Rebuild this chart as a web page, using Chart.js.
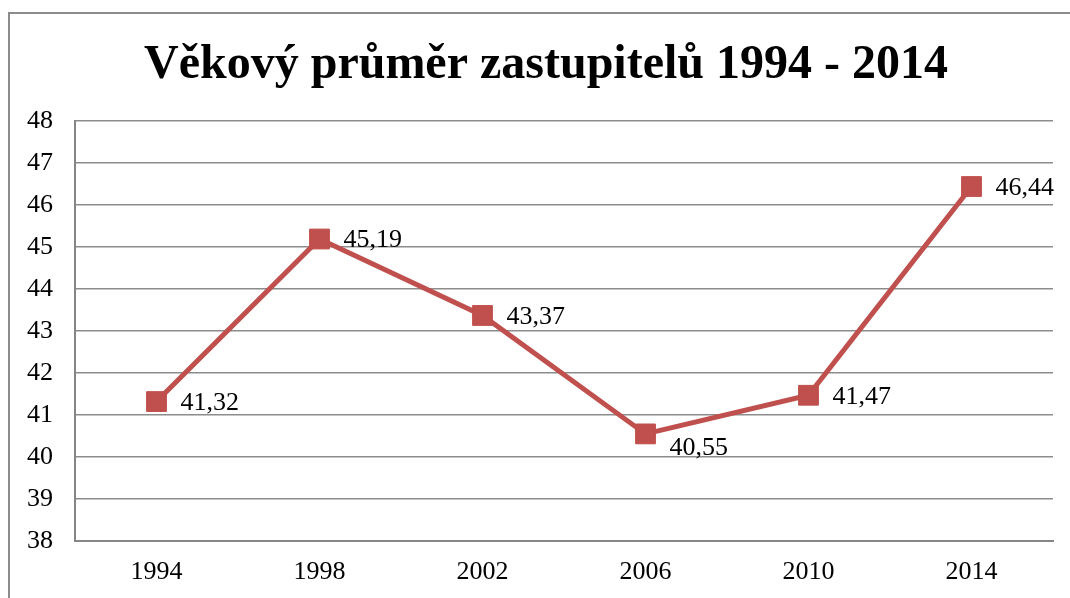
<!DOCTYPE html>
<html>
<head>
<meta charset="utf-8">
<script src="https://cdn.jsdelivr.net/npm/chart.js@4.4.1/dist/chart.umd.min.js"></script>
<style>
  html, body { margin: 0; padding: 0; background: #fff; }
  #wrap { position: relative; width: 1070px; height: 598px; }
  #frame { position: absolute; left: 8px; top: 12px; width: 1070px; height: 600px;
           border-left: 2px solid #8c8c8c; border-top: 2px solid #8c8c8c; box-sizing: border-box; pointer-events: none; }
</style>
</head>
<body>
<div id="wrap">
  <canvas id="c" width="1070" height="598"></canvas>
  <div id="frame"></div>
</div>
<script>
const titleText = 'Věkový průměr zastupitelů 1994 - 2014';
const categories = ['1994', '1998', '2002', '2006', '2010', '2014'];
const ageValues = [41.32, 45.19, 43.37, 40.55, 41.47, 46.44];
const yTicks = [38, 39, 40, 41, 42, 43, 44, 45, 46, 47, 48];

const SERIF = '"Liberation Serif", "Times New Roman", serif';
const RED = '#C0504D';

const titlePlugin = {
  id: 'titleText',
  afterDraw(chart) {
    const ctx = chart.ctx;
    ctx.save();
    ctx.font = 'bold 48px ' + SERIF;
    ctx.fillStyle = '#000';
    ctx.textAlign = 'center';
    ctx.textBaseline = 'alphabetic';
    ctx.fillText(titleText, 546, 78);
    ctx.restore();
  }
};

const labelPlugin = {
  id: 'valueLabels',
  afterDatasetsDraw(chart) {
    const ctx = chart.ctx;
    const meta = chart.getDatasetMeta(0);
    ctx.save();
    ctx.font = '26px ' + SERIF;
    ctx.fillStyle = '#000';
    ctx.textAlign = 'left';
    ctx.textBaseline = 'middle';
    meta.data.forEach((pt, i) => {
      const v = ageValues[i];
      const txt = v.toFixed(2).replace('.', ',');
      const dy = (i === 3) ? 14 : 1.5;
      ctx.fillText(txt, pt.x + 24, pt.y + dy);
    });
    ctx.restore();
  }
};

new Chart(document.getElementById('c'), {
  type: 'line',
  data: {
    labels: categories,
    datasets: [{
      data: ageValues,
      borderColor: RED,
      backgroundColor: RED,
      borderWidth: 5,
      pointStyle: 'rect',
      pointRadius: 14,
      pointHoverRadius: 14,
      pointBorderWidth: 1,
      pointBackgroundColor: RED,
      pointBorderColor: RED,
      tension: 0
    }]
  },
  options: {
    responsive: false,
    animation: false,
    events: [],
    layout: { padding: { left: 8, right: 17, top: 121, bottom: 0 } },
    plugins: {
      legend: { display: false },
      tooltip: { enabled: false },
      title: { display: false }
    },
    scales: {
      x: {
        type: 'category',
        offset: true,
        grid: { display: false, drawTicks: false },
        border: { display: true, color: '#868686', width: 2 },
        ticks: { color: '#000', font: { family: SERIF, size: 26 }, padding: 16, maxRotation: 0 },
        afterFit(scale) { scale.height = 57; }
      },
      y: {
        type: 'linear',
        min: yTicks[0],
        max: yTicks[yTicks.length - 1],
        afterBuildTicks(scale) { scale.ticks = yTicks.map(v => ({ value: v })); },
        grid: { color: '#8c8c8c', lineWidth: 1.5, drawTicks: false },
        border: { display: true, color: '#868686', width: 2 },
        ticks: { color: '#000', font: { family: SERIF, size: 26 }, padding: 22 },
        afterFit(scale) { scale.width = 67; }
      }
    }
  },
  plugins: [labelPlugin, titlePlugin]
});
</script>
</body>
</html>
